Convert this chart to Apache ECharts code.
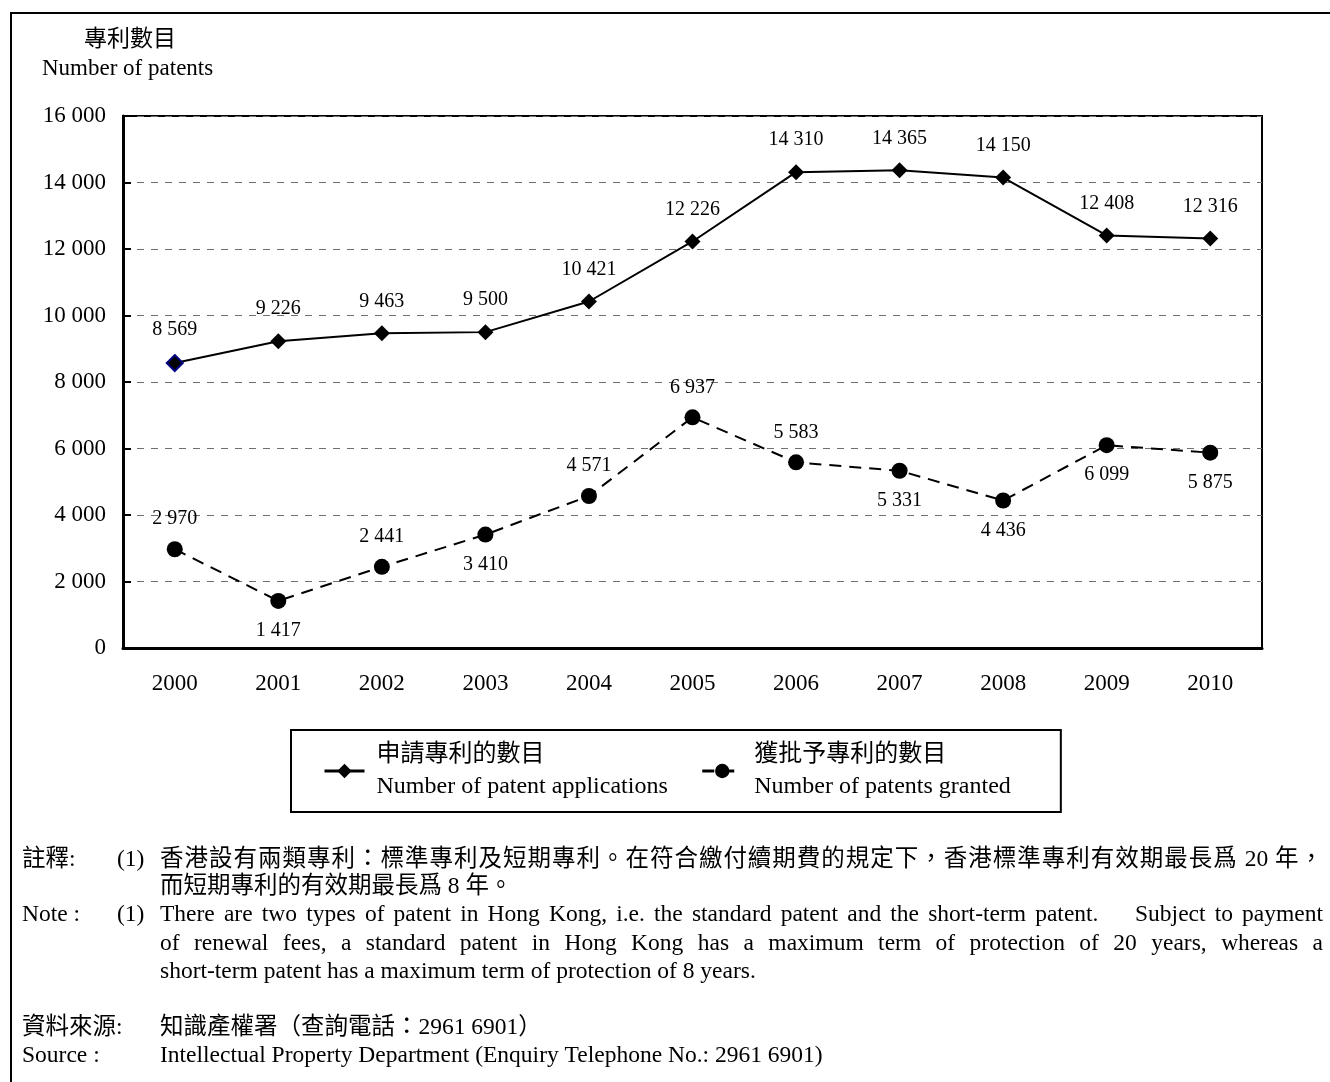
<!DOCTYPE html>
<html>
<head>
<meta charset="utf-8">
<script src="https://cdn.jsdelivr.net/npm/echarts@6/dist/echarts.min.js"></script>
<style>
html,body{margin:0;padding:0;background:#fff;}
#chart{width:1330px;height:1082px;}
</style>
</head>
<body>
<div id="chart"></div>
<script>
const categories = ['2000','2001','2002','2003','2004','2005','2006','2007','2008','2009','2010'];
const applications = [8569, 9226, 9463, 9500, 10421, 12226, 14310, 14365, 14150, 12408, 12316];
const granted = [2970, 1417, 2441, 3410, 4571, 6937, 5583, 5331, 4436, 6099, 5875];
const grantedLabelSide = ['top','bottom','top','bottom','top','top','top','bottom','bottom','bottom','bottom'];
const seriesNames = ['申請專利的數目\nNumber of patent applications', '獲批予專利的數目\nNumber of patents granted'];
const yMin = 0, yMax = 16000, yStep = 2000;
const axisTitle = ['專利數目', 'Number of patents'];
const noteLines = {
  zhLabel: '註釋:', enLabel: 'Note :', num: '(1)',
  zh: ['香港設有兩類專利：標準專利及短期專利。在符合繳付續期費的規定下，香港標準專利有效期最長爲 20 年，', '而短期專利的有效期最長爲 8 年。'],
  en: ['There are two types of patent in Hong Kong, i.e. the standard patent and the short-term patent.    Subject to payment', 'of renewal fees, a standard patent in Hong Kong has a maximum term of protection of 20 years, whereas a', 'short-term patent has a maximum term of protection of 8 years.'],
  srcZhLabel: '資料來源:', srcEnLabel: 'Source :',
  srcZh: '知識產權署（查詢電話：2961 6901）',
  srcEn: 'Intellectual Property Department (Enquiry Telephone No.: 2961 6901)'
};

const FONT = "'Liberation Serif', 'Noto Sans CJK TC', serif";
const NOTE_SIZE = 23.5;
const fmt = v => String(v).replace(/\B(?=(\d{3})+(?!\d))/g, ' ');

const chart = echarts.init(document.getElementById('chart'));

function txt(x, y, text, size) {
  return {
    type: 'text', x: x, y: y,
    style: { text: text, fontFamily: FONT, fontSize: size || NOTE_SIZE, fill: '#000', textVerticalAlign: 'middle', textAlign: 'left' }
  };
}

const mctx = document.createElement('canvas').getContext('2d');
function justified(x0, x1, y, text, size, cjk) {
  mctx.font = size + 'px ' + FONT;
  const out = [];
  let tokens, sepW;
  if (cjk) {
    tokens = text.match(/[0-9]+ ?|./g);
    sepW = 0;
  } else {
    tokens = text.split(' ');
    sepW = mctx.measureText(' ').width;
  }
  const widths = tokens.map(t => mctx.measureText(t).width);
  const natural = widths.reduce((a, b) => a + b, 0) + sepW * (tokens.length - 1);
  const extra = (x1 - x0 - natural) / (tokens.length - 1);
  let x = x0;
  tokens.forEach((t, i) => {
    if (t.length) out.push(txt(x, y, t, size));
    x += widths[i] + sepW + extra;
  });
  return out;
}

const RIGHT = 1323;
const graphics = [
  { type: 'rect', z: 0, shape: { x: 11, y: 13, width: 1340, height: 1100 }, style: { fill: 'none', stroke: '#000', lineWidth: 2 } },
  txt(84, 40, axisTitle[0], 23),
  txt(42, 69, axisTitle[1], 23),
  txt(22, 860, noteLines.zhLabel), txt(117, 860, noteLines.num),
  ...justified(160, RIGHT, 860, noteLines.zh[0], NOTE_SIZE, true),
  txt(160, 887, noteLines.zh[1]),
  txt(22, 915, noteLines.enLabel), txt(117, 915, noteLines.num),
  ...justified(160, RIGHT, 915, noteLines.en[0], NOTE_SIZE, false),
  ...justified(160, RIGHT, 944, noteLines.en[1], NOTE_SIZE, false),
  txt(160, 972, noteLines.en[2]),
  txt(22, 1028, noteLines.srcZhLabel), txt(160, 1028, noteLines.srcZh),
  txt(22, 1056, noteLines.srcEnLabel), txt(160, 1056, noteLines.srcEn)
];

const option = {
  animation: false,
  backgroundColor: '#fff',
  grid: { left: 123, top: 116, width: 1139, height: 532, show: true, borderColor: '#000', borderWidth: 2, backgroundColor: 'transparent' },
  xAxis: {
    type: 'category', data: categories, boundaryGap: true,
    axisLine: { lineStyle: { color: '#000', width: 3 } },
    axisTick: { show: false },
    axisLabel: { color: '#000', fontFamily: FONT, fontSize: 23, margin: 24 },
    splitLine: { show: false }
  },
  yAxis: {
    type: 'value', min: yMin, max: yMax, interval: yStep,
    axisLine: { show: true, lineStyle: { color: '#000', width: 3 } },
    axisTick: { show: true, inside: true, length: 8, lineStyle: { color: '#000', width: 2 } },
    axisLabel: { color: '#000', fontFamily: FONT, fontSize: 23, margin: 17, formatter: fmt },
    splitLine: { show: true, lineStyle: { color: '#707070', width: 1, type: [7, 7] } }
  },
  legend: {
    left: 291, top: 730,
    borderColor: '#000', borderWidth: 2,
    padding: [13, 50, 13, 32],
    itemWidth: 40, itemHeight: 18, itemGap: 33,
    data: seriesNames,
    lineStyle: { width: 3 },
    formatter: name => { const p = name.split('\n'); return '{a|' + p[0] + '}\n{b|' + p[1] + '}'; },
    textStyle: {
      rich: {
        a: { fontFamily: FONT, fontSize: 24, color: '#000', lineHeight: 32, padding: [0, 0, 0, 7] },
        b: { fontFamily: FONT, fontSize: 24, color: '#000', lineHeight: 32, padding: [0, 0, 0, 7] }
      }
    }
  },
  series: [
    {
      name: seriesNames[0], type: 'line',
      data: applications.map((v, i) => i === 0 ? { value: v, itemStyle: { borderColor: '#000080', borderWidth: 2 } } : v),
      symbol: 'diamond', symbolSize: 16,
      lineStyle: { color: '#000', width: 2 },
      itemStyle: { color: '#000', borderColor: '#000', borderWidth: 0 },
      label: { show: true, position: 'top', distance: 14, color: '#000', fontFamily: FONT, fontSize: 20, formatter: p => fmt(p.value) },
      z: 3
    },
    {
      name: seriesNames[1], type: 'line',
      data: granted.map((v, i) => ({ value: v, label: { position: grantedLabelSide[i] } })),
      symbol: 'circle', symbolSize: 16,
      lineStyle: { color: '#000', width: 2, type: [12, 8] },
      itemStyle: { color: '#000' },
      label: { show: true, distance: 12, color: '#000', fontFamily: FONT, fontSize: 20, formatter: p => fmt(p.value) },
      z: 3
    }
  ],
  graphic: graphics
};
chart.setOption(option);
</script>
</body>
</html>
